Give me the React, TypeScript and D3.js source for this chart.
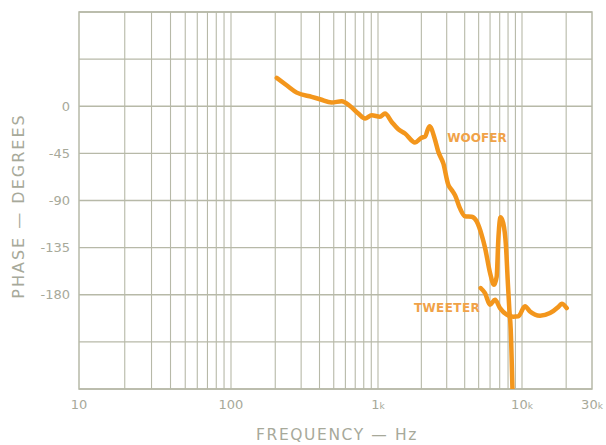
import React from "react";
import * as d3 from "d3";

const phaseTicks = [0, -45, -90, -135, -180];
const phaseGrid = [90, 45, 0, -45, -90, -135, -180, -225, -270];
const freqTickLabels = [
  { f: 10, main: "10", sub: "" },
  { f: 100, main: "100", sub: "" },
  { f: 1000, main: "1", sub: "k" },
  { f: 10000, main: "10", sub: "k" },
  { f: 30000, main: "30", sub: "k" },
];

const wooferFreq = [205, 239, 280, 354, 403, 484, 566, 645, 735, 816, 906, 1032, 1118, 1245, 1384, 1540, 1807, 2012, 2120, 2278, 2488, 2623, 2842, 3077, 3250, 3427, 3710, 4020, 4475, 4845, 5250, 5535, 5995, 6395, 6670, 6846, 7093, 7413, 7743, 7955, 8166, 8350, 8590];
const wooferPhase = [27, 20, 13, 8.9, 6.7, 3.5, 4.8, 0.3, -7, -11.7, -8.6, -10, -7, -15, -22, -26, -34.6, -30, -29, -19, -32, -43.5, -54.6, -75, -80, -85, -97.5, -105, -105.5, -110, -123, -135, -159, -170.5, -162.6, -127.6, -106, -111.7, -134, -165.7, -194, -213, -272];

const tweeterFreq = [5166, 5535, 5995, 6494, 7035, 7830, 8705, 9425, 10480, 11340, 13270, 15520, 17670, 18650, 20180];
const tweeterPhase = [-173.6, -178.4, -189.5, -184.8, -192.7, -199, -201, -200.6, -191, -196, -200, -197.5, -191.7, -188.6, -192.7];

const W = 606, H = 445;
const T = 12, B = 389;
const freqStops = [10, 100, 1000, 10000, 30000];
const freqPixels = [79, 231, 378, 522, 592];

export default function App() {
  const x = d3.scaleLog().domain(freqStops).range(freqPixels);
  const y = d3.scaleLinear().domain([90, -270]).range([T, B]);
  const L = freqPixels[0], R = freqPixels[freqPixels.length - 1];

  const minor: number[] = [];
  for (let dec = 10; dec < 30000; dec *= 10) {
    for (let k = 1; k <= 9; k++) {
      const f = dec * k;
      if (f > 10 && f < 30000) minor.push(f);
    }
  }

  const line = d3
    .line<[number, number]>()
    .x((d) => x(d[0]))
    .y((d) => y(d[1]))
    .curve(d3.curveMonotoneX);

  const woofer = wooferFreq.map((f, i) => [f, wooferPhase[i]] as [number, number]);
  const tweeter = tweeterFreq.map((f, i) => [f, tweeterPhase[i]] as [number, number]);

  const grid = "#b7b9a8";
  const txt = "#a7a99a";
  const orange = "#f3961c";
  const labelOrange = "#f0a248";
  const font = "'DejaVu Sans', sans-serif";

  return (
    <svg width={W} height={H} style={{ position: "absolute", left: 0, top: 0, background: "#fff" }}>
      <defs>
        <clipPath id="plot">
          <rect x={L} y={T} width={R - L} height={B - T} />
        </clipPath>
      </defs>
      {minor.map((f) => (
        <line key={"v" + f} x1={x(f)} x2={x(f)} y1={T} y2={B} stroke={grid} strokeWidth={1.1} />
      ))}
      {phaseGrid.map((p) => (
        <line key={"h" + p} x1={L} x2={R} y1={y(p)} y2={y(p)} stroke={grid} strokeWidth={1.3} />
      ))}
      <rect x={L} y={T} width={R - L} height={B - T} fill="none" stroke={grid} strokeWidth={1.5} />

      {phaseTicks.map((p) => (
        <text key={"yt" + p} x={70} y={y(p)} dy="0.35em" textAnchor="end" fontFamily={font} fontSize={13} fill={txt}>
          {p === 0 ? "0" : "-" + Math.abs(p)}
        </text>
      ))}
      {freqTickLabels.map((t) => (
        <text key={"xt" + t.f} x={x(t.f)} y={409} textAnchor="middle" fontFamily={font} fontSize={13} fill={txt}>
          {t.main}
          {t.sub && <tspan fontSize={9}>{t.sub}</tspan>}
        </text>
      ))}

      <text x={337} y={440} textAnchor="middle" fontFamily={font} fontSize={15.5} letterSpacing={1.6} fill={txt}>
        FREQUENCY — Hz
      </text>
      <text transform={`translate(24,206) rotate(-90)`} textAnchor="middle" fontFamily={font} fontSize={16} letterSpacing={2} fill={txt}>
        PHASE — DEGREES
      </text>

      <g clipPath="url(#plot)">
        <path d={line(woofer) || ""} fill="none" stroke={orange} strokeWidth={4.5} strokeLinejoin="round" strokeLinecap="round" />
        <path d={line(tweeter) || ""} fill="none" stroke={orange} strokeWidth={4.5} strokeLinejoin="round" strokeLinecap="round" />
      </g>

      <text x={477} y={142} textAnchor="middle" fontFamily={font} fontWeight="bold" fontSize={12} fill={labelOrange}>
        WOOFER
      </text>
      <text x={447} y={312} textAnchor="middle" fontFamily={font} fontWeight="bold" fontSize={12} letterSpacing={0.4} fill={labelOrange}>
        TWEETER
      </text>
    </svg>
  );
}
